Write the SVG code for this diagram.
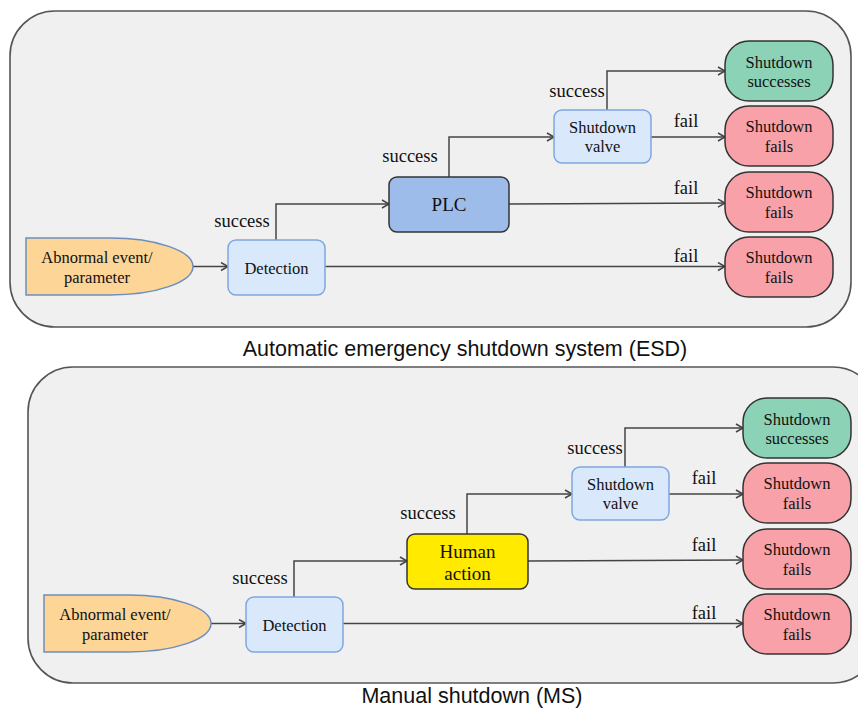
<svg xmlns="http://www.w3.org/2000/svg" width="858" height="710" viewBox="0 0 858 710">
<defs>
<marker id="arr" markerWidth="10" markerHeight="10" refX="8" refY="5" orient="auto" markerUnits="userSpaceOnUse">
<path d="M1,1 L8,5 L1,9" fill="none" stroke="#444" stroke-width="1.5"/>
</marker>
<style>
.panel{fill:#f0f0f0;stroke:#555;stroke-width:1.6}
.abn{fill:#fdd597;stroke:#6c8ebf;stroke-width:1.5}
.lb{fill:#dae8fc;stroke:#7ea6e0;stroke-width:1.5}
.plc{fill:#9dbce9;stroke:#333;stroke-width:1.5}
.hum{fill:#ffea00;stroke:#333;stroke-width:1.5}
.ok{fill:#8cd2b6;stroke:#333;stroke-width:1.5}
.ko{fill:#f9a1a8;stroke:#333;stroke-width:1.5}
.c{fill:none;stroke:#444;stroke-width:1.5;marker-end:url(#arr)}
text{font-family:"Liberation Serif","Times New Roman",serif;fill:#111}
.t{font-size:16.5px;text-anchor:middle}
.big{font-size:19px;text-anchor:middle}
.lab{font-size:18.5px;text-anchor:middle}
.cap{font-family:"Liberation Sans",Arial,sans-serif;font-size:21.5px;text-anchor:middle}
</style>
</defs>

<rect class="panel" x="10" y="11" width="841" height="316" rx="45"/>
<rect class="panel" x="28" y="367" width="850" height="316" rx="45"/>

<g id="connectors">
<path class="c" d="M193,266.5 H228"/>
<path class="c" d="M276,240 V204 H389"/>
<path class="c" d="M449,177 V137 H554"/>
<path class="c" d="M607,110 V71 H725"/>
<path class="c" d="M651,137 H725"/>
<path class="c" d="M509,204 L725,203"/>
<path class="c" d="M325,266.5 H725"/>
<path class="c" d="M211,623.5 H246"/>
<path class="c" d="M294,597 V561 H407"/>
<path class="c" d="M467,534 V494 H572"/>
<path class="c" d="M625,467 V428 H743"/>
<path class="c" d="M669,494 H743"/>
<path class="c" d="M528,561 L743,560"/>
<path class="c" d="M343,623.5 H743"/>
</g>

<g id="labels">
<text class="lab" x="242" y="227">success</text>
<text class="lab" x="410" y="162">success</text>
<text class="lab" x="577" y="97">success</text>
<text class="lab" x="686" y="127">fail</text>
<text class="lab" x="686" y="194">fail</text>
<text class="lab" x="686" y="262">fail</text>
<text class="lab" x="260" y="584">success</text>
<text class="lab" x="428" y="519">success</text>
<text class="lab" x="595" y="454">success</text>
<text class="lab" x="704" y="484">fail</text>
<text class="lab" x="704" y="551">fail</text>
<text class="lab" x="704" y="619">fail</text>
</g>

<g id="esd-abnormal">
<path class="abn" d="M26,238 H110 A83,28.5 0 0 1 110,295 H26 Z"/>
<text class="t" x="97" y="263">Abnormal event/</text>
<text class="t" x="97" y="283">parameter</text>
</g>
<g id="esd-detection">
<rect class="lb" x="228" y="240" width="97" height="55" rx="8"/>
<text class="t" x="276.5" y="274">Detection</text>
</g>
<g id="esd-plc">
<rect class="plc" x="389" y="177" width="120" height="55" rx="8"/>
<text class="big" x="449" y="211">PLC</text>
</g>
<g id="esd-valve">
<rect class="lb" x="554" y="110" width="97" height="53" rx="8"/>
<text class="t" x="602.5" y="133">Shutdown</text>
<text class="t" x="602.5" y="152">valve</text>
</g>
<g id="esd-success">
<rect class="ok" x="725" y="41" width="108" height="60" rx="24"/>
<text class="t" x="779" y="68">Shutdown</text>
<text class="t" x="779" y="87">successes</text>
</g>
<g id="esd-fail1">
<rect class="ko" x="725" y="106" width="108" height="60" rx="24"/>
<text class="t" x="779" y="132">Shutdown</text>
<text class="t" x="779" y="152">fails</text>
</g>
<g id="esd-fail2">
<rect class="ko" x="725" y="172" width="108" height="60" rx="24"/>
<text class="t" x="779" y="198">Shutdown</text>
<text class="t" x="779" y="218">fails</text>
</g>
<g id="esd-fail3">
<rect class="ko" x="725" y="237" width="108" height="60" rx="24"/>
<text class="t" x="779" y="263">Shutdown</text>
<text class="t" x="779" y="283">fails</text>
</g>
<text class="cap" x="465" y="356">Automatic emergency shutdown system (ESD)</text>

<g id="ms-abnormal">
<path class="abn" d="M44,595 H128 A83,28.5 0 0 1 128,652 H44 Z"/>
<text class="t" x="115" y="620">Abnormal event/</text>
<text class="t" x="115" y="640">parameter</text>
</g>
<g id="ms-detection">
<rect class="lb" x="246" y="597" width="97" height="55" rx="8"/>
<text class="t" x="294.5" y="631">Detection</text>
</g>
<g id="ms-human">
<rect class="hum" x="407" y="534" width="121" height="55" rx="8"/>
<text class="big" x="467.5" y="558">Human</text>
<text class="big" x="467.5" y="580">action</text>
</g>
<g id="ms-valve">
<rect class="lb" x="572" y="467" width="97" height="53" rx="8"/>
<text class="t" x="620.5" y="490">Shutdown</text>
<text class="t" x="620.5" y="509">valve</text>
</g>
<g id="ms-success">
<rect class="ok" x="743" y="398" width="108" height="60" rx="24"/>
<text class="t" x="797" y="425">Shutdown</text>
<text class="t" x="797" y="444">successes</text>
</g>
<g id="ms-fail1">
<rect class="ko" x="743" y="463" width="108" height="60" rx="24"/>
<text class="t" x="797" y="489">Shutdown</text>
<text class="t" x="797" y="509">fails</text>
</g>
<g id="ms-fail2">
<rect class="ko" x="743" y="529" width="108" height="60" rx="24"/>
<text class="t" x="797" y="555">Shutdown</text>
<text class="t" x="797" y="575">fails</text>
</g>
<g id="ms-fail3">
<rect class="ko" x="743" y="594" width="108" height="60" rx="24"/>
<text class="t" x="797" y="620">Shutdown</text>
<text class="t" x="797" y="640">fails</text>
</g>
<text class="cap" x="472" y="703">Manual shutdown (MS)</text>
</svg>
